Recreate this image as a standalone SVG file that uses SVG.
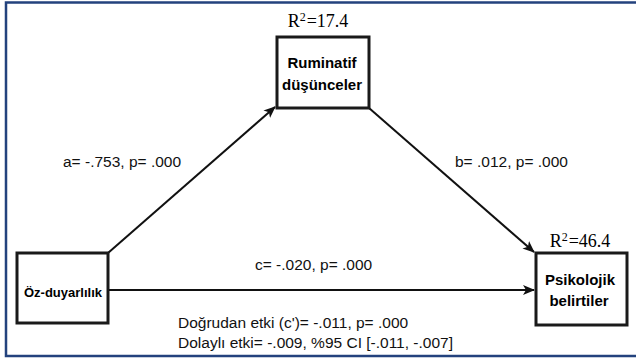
<svg xmlns="http://www.w3.org/2000/svg" width="636" height="358" viewBox="0 0 636 358">
<defs>
<style>
.box{fill:#fff;stroke:#1a1a1a;stroke-width:3}
.edge{stroke:#111;stroke-width:2;fill:none}
.lbl{font-family:"Liberation Sans",Arial,sans-serif;font-size:15.5px;fill:#111}
.nb{font-family:"Liberation Sans",Arial,sans-serif;font-weight:bold;font-size:15px;fill:#000;text-anchor:middle}
.r2{font-family:"Liberation Serif","Times New Roman",serif;font-size:18px;fill:#000;text-anchor:middle}
</style>
<marker id="ah" viewBox="0 0 12 10" refX="11" refY="5" markerWidth="12" markerHeight="10" markerUnits="userSpaceOnUse" orient="auto">
<path d="M0,0 L12,5 L0,10 L3,5 Z" fill="#111"/>
</marker>
</defs>
<rect x="0" y="0" width="636" height="358" fill="#fff"/>
<rect x="6" y="2.5" width="640" height="353.5" fill="none" stroke="#23427d" stroke-width="2.5"/>
<g id="connectors">
<line class="edge" x1="108" y1="253" x2="275" y2="107" marker-end="url(#ah)"/>
<line class="edge" x1="369" y1="108" x2="534" y2="252" marker-end="url(#ah)"/>
<line class="edge" x1="108" y1="290" x2="534" y2="290" stroke-width="2.5" marker-end="url(#ah)"/>
</g>
<g id="node-oz">
<rect class="box" x="17" y="253" width="91" height="70"/>
<text class="nb" x="63" y="297" style="font-size:13px">Öz-duyarlılık</text>
</g>
<g id="node-ruminatif">
<rect class="box" x="277" y="37" width="92" height="71"/>
<text class="nb" x="322" y="68">Ruminatif</text>
<text class="nb" x="322" y="90">düşünceler</text>
<text class="r2" x="318" y="27">R<tspan dy="-6" font-size="12">2</tspan><tspan dy="6" dx="1">=17.4</tspan></text>
</g>
<g id="node-psikolojik">
<rect class="box" x="536" y="253" width="91" height="72"/>
<text class="nb" x="580" y="285">Psikolojik</text>
<text class="nb" x="579" y="306">belirtiler</text>
<text class="r2" x="580" y="247">R<tspan dy="-6" font-size="12">2</tspan><tspan dy="6" dx="1">=46.4</tspan></text>
</g>
<g id="labels">
<text class="lbl" x="63" y="167">a= -.753, p= .000</text>
<text class="lbl" x="455" y="167">b= .012, p= .000</text>
<text class="lbl" x="255" y="270">c= -.020, p= .000</text>
<text class="lbl" x="178" y="328">Doğrudan etki (c')= -.011, p= .000</text>
<text class="lbl" x="178" y="348">Dolaylı etki= -.009, %95 CI [-.011, -.007]</text>
</g>
</svg>
